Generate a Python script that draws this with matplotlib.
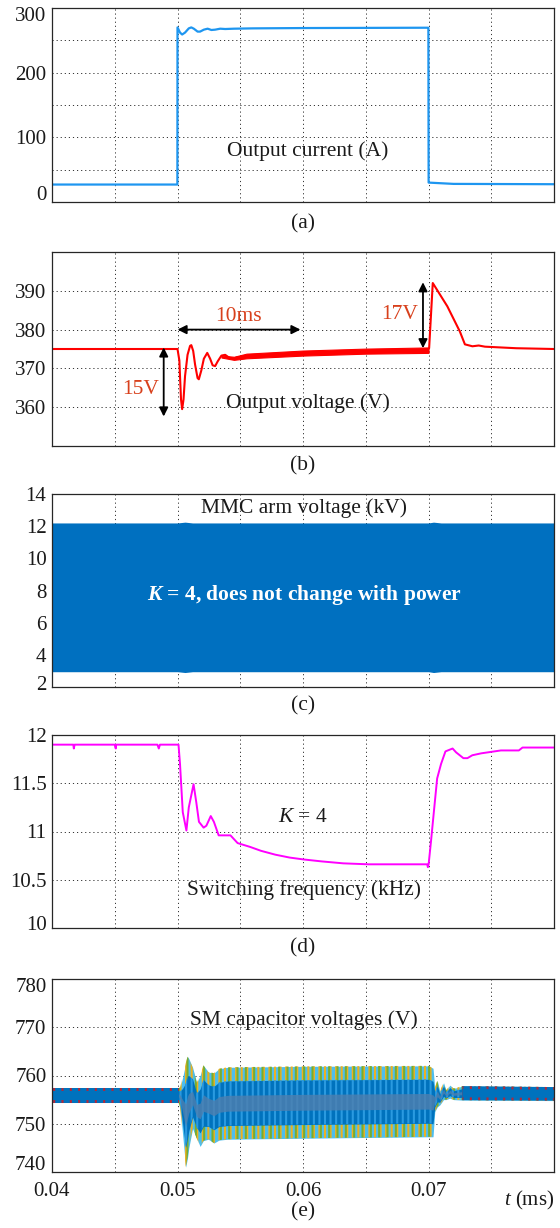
import matplotlib
matplotlib.use('Agg')
import matplotlib.pyplot as plt
from matplotlib.transforms import ScaledTranslation
import numpy as np

plt.rcParams['font.family'] = ['Liberation Serif', 'DejaVu Serif']
plt.rcParams['mathtext.fontset'] = 'custom'
plt.rcParams['mathtext.rm'] = 'Liberation Serif'
plt.rcParams['mathtext.it'] = 'Liberation Serif:italic'
plt.rcParams['mathtext.bf'] = 'Liberation Serif:bold'
plt.rcParams['mathtext.bfit'] = 'Liberation Serif:italic:bold'
plt.rcParams['hatch.linewidth'] = 1.5

# ---------------- data ----------------
x_grid = [0.04, 0.045, 0.05, 0.055, 0.06, 0.065, 0.07, 0.075, 0.08]
x_labels = ['0.04', '', '0.05', '', '0.06', '', '0.07', '', '']

# (a) output current (A)
cur_t = [0.04, 0.04999, 0.05, 0.0502, 0.05037, 0.0506, 0.0509, 0.0511, 0.0513,
         0.0516, 0.0518, 0.0521, 0.0524, 0.0527, 0.0530, 0.0534, 0.0538, 0.0545,
         0.0560, 0.0600, 0.0699, 0.06999, 0.07001, 0.0705, 0.0720, 0.0800]
cur_v = [27, 27, 270, 262, 259, 262, 268.5, 270, 268, 263.5, 263.5, 266.5, 268,
         266, 266.5, 268, 267.5, 268, 268.5, 269, 269.5, 269.5, 30, 29.5, 28, 27.5]

# (b) output voltage (V)
vol_t = [0.04, 0.0490, 0.0500, 0.05015, 0.0502, 0.05028, 0.05037, 0.05048, 0.0506,
         0.0508, 0.0510, 0.0511, 0.05125, 0.0514, 0.0516, 0.0517, 0.0519, 0.0521,
         0.05237, 0.0526, 0.0528, 0.0530, 0.0532, 0.0535, 0.0538, 0.0541, 0.0544,
         0.0547, 0.0555, 0.0600, 0.0650, 0.06995, 0.07005, 0.07034, 0.0715, 0.0725,
         0.0729, 0.0735, 0.0740, 0.0745, 0.0770, 0.0800]
vol_v = [375, 375, 375, 372, 368, 362, 359.5, 362, 368, 373.5, 375.8, 376, 374.5,
         371, 367.5, 367.2, 369.5, 372.5, 374, 372.5, 370.8, 370.6, 371.8, 373.3,
         373.5, 372.8, 372.4, 372.8, 373.2, 374.0, 374.5, 374.8, 375.2, 392, 386,
         379.5, 376.2, 375.7, 375.9, 375.6, 375.2, 375]
rip_t = [0.0535, 0.0545, 0.0555, 0.0600, 0.0650, 0.0700]
rip_lo = [372.8, 372.2, 372.6, 373.3, 373.8, 374.0]
rip_hi = [373.3, 373.0, 373.8, 374.6, 375.1, 375.4]

# (c) MMC arm voltage envelope (kV)
arm_t = [0.04, 0.0500, 0.0506, 0.0512, 0.0700, 0.0704, 0.0710, 0.0800]
arm_hi = [12.2, 12.2, 12.25, 12.2, 12.2, 12.25, 12.2, 12.2]
arm_lo = [2.95, 2.95, 2.9, 2.95, 2.95, 2.9, 2.95, 2.95]

# (d) switching frequency (kHz)
fs_t = [0.04, 0.0417, 0.04174, 0.0418, 0.0450, 0.04508, 0.0451, 0.0484, 0.04851,
        0.0486, 0.05008, 0.0502, 0.05042, 0.05071, 0.0509, 0.05128, 0.0515, 0.05171,
        0.05208, 0.0523, 0.05265, 0.0529, 0.05328, 0.05422, 0.05479, 0.05579,
        0.05665, 0.05779, 0.05893, 0.06007, 0.0615, 0.06321, 0.06521, 0.0699,
        0.06995, 0.07001, 0.0702, 0.0705, 0.07069, 0.0710, 0.07135, 0.07192,
        0.0722, 0.07278, 0.0731, 0.07349, 0.0742, 0.07577, 0.0772, 0.07749, 0.0800]
fs_v = [11.9, 11.9, 11.86, 11.9, 11.9, 11.86, 11.9, 11.9, 11.86, 11.9, 11.9, 11.7,
        11.2, 11.01, 11.25, 11.49, 11.3, 11.1, 11.04, 11.06, 11.16, 11.1, 10.96,
        10.96, 10.88, 10.84, 10.80, 10.76, 10.73, 10.71, 10.69, 10.67, 10.66,
        10.66, 10.63, 10.66, 10.9, 11.3, 11.55, 11.7, 11.83, 11.86, 11.82, 11.76,
        11.76, 11.79, 11.81, 11.84, 11.84, 11.87, 11.87]

# (e) SM capacitor voltage envelope (V)
sm_t = [0.04, 0.0501, 0.0502, 0.0504, 0.05065, 0.0508, 0.0509, 0.0512, 0.05153,
        0.0518, 0.05206, 0.05246, 0.0529, 0.0533, 0.0540, 0.0600, 0.0700, 0.07036,
        0.0705, 0.0707, 0.0709, 0.0712, 0.0714, 0.0717, 0.0720, 0.0727, 0.0800]
sm_hi = [757.4, 757.4, 757.5, 759.5, 762.5, 763.9, 763.5, 761.7, 758.5, 760.0,
         762.1, 760.7, 760.5, 761.4, 761.7, 761.9, 762.0, 761.5, 757.5, 758.9,
         756.8, 758.5, 756.9, 758.0, 757.3, 757.8, 757.6]
sm_lo = [754.4, 754.4, 753.5, 748.0, 741.0, 743.0, 745.0, 749.0, 747.0, 745.3,
         746.5, 746.8, 746.0, 746.6, 746.8, 747.0, 747.3, 747.3, 752.5, 753.5,
         753.9, 755.0, 755.0, 755.3, 755.0, 754.9, 754.8]

# ---------------- layout ----------------
W, H = 560, 1228
fig = plt.figure(figsize=(W / 100, H / 100), dpi=100)
L, R = 52, 554


def axpos(top, bot):
    return [L / W, 1 - bot / H, (R - L) / W, (bot - top) / H]


FS_TICK = 15
FS_TXT = 15.5
GRID = dict(color='#333333', lw=0.7, linestyle=(0, (1.2, 3.0)))
TXT = dict(fontsize=FS_TXT, color='#1a1a1a', ha='center', va='center')


def setup(ax, ylim, yticks, ylabels, shifts=None):
    ax.set_xlim(0.04, 0.08)
    ax.set_ylim(*ylim)
    ax.set_xticks(x_grid)
    ax.set_xticklabels([''] * len(x_grid))
    ax.set_yticks(yticks)
    ax.set_yticklabels(ylabels)
    ax.tick_params(length=0, labelsize=FS_TICK, pad=4, colors='#1a1a1a')
    ax.grid(True, **GRID)
    ax.set_axisbelow(True)
    for s in ax.spines.values():
        s.set_linewidth(0.9)
        s.set_color('#262626')
        s.set_zorder(10)
    if shifts:
        labs = ax.get_yticklabels()
        for idx, dy in shifts.items():
            labs[idx].set_transform(labs[idx].get_transform() +
                                    ScaledTranslation(0, dy / 100, fig.dpi_scale_trans))


def panel_label(text, ypx):
    fig.text(((L + R) / 2) / W, 1 - ypx / H, text, ha='center', va='center',
             fontsize=FS_TXT, color='#1a1a1a')


# (a)
ax = fig.add_axes(axpos(8, 202))
setup(ax, (0, 300), [0, 50, 100, 150, 200, 250, 300],
      ['0', '', '100', '', '200', '', '300'], {0: 9, 6: -6})
ax.plot(cur_t, cur_v, color='#1e96f0', lw=1.6, zorder=3)
ax.text(0.0604, 78, 'Output current (A)', **TXT)
panel_label('(a)', 224)

# (b)
ax = fig.add_axes(axpos(252, 446))
setup(ax, (350, 400), [350, 360, 370, 380, 390, 400],
      ['', '360', '370', '380', '390', ''])
ax.fill_between(rip_t, rip_lo, rip_hi, color='#ff0000', lw=0.8, zorder=3)
ax.plot(vol_t, vol_v, color='#ff0000', lw=1.5, zorder=3)
red_txt = '#d8401c'
arrow = dict(arrowstyle='<|-|>', color='black', lw=1.3, mutation_scale=13,
             shrinkA=0, shrinkB=0)
ax.annotate('', xy=(0.0489, 357.6), xytext=(0.0489, 375.4), arrowprops=arrow, zorder=5)
ax.annotate('', xy=(0.06956, 392.2), xytext=(0.06956, 375.2), arrowprops=arrow, zorder=5)
ax.annotate('', xy=(0.0500, 380), xytext=(0.0598, 380), arrowprops=arrow, zorder=5)
ax.text(0.04705, 364.6, '15V', fontsize=15.5, color=red_txt, ha='center', va='center')
ax.text(0.0677, 384.0, '17V', fontsize=15.5, color=red_txt, ha='center', va='center')
ax.text(0.05485, 383.4, '10ms', fontsize=15.5, color=red_txt, ha='center', va='center')
ax.text(0.0604, 361.0, 'Output voltage (V)', **TXT)
panel_label('(b)', 466)

# (c)
ax = fig.add_axes(axpos(494, 687))
setup(ax, (2, 14), [2, 4, 6, 8, 10, 12, 14],
      ['2', '4', '6', '8', '10', '12', '14'], {0: 4})
ax.fill_between(arm_t, arm_lo, arm_hi, color='#0070c0', lw=0, zorder=3)
ax.text(0.0601, 13.1, 'MMC arm voltage (kV)', **TXT)
ax.text(0.0601, 7.75, r'$\mathbfit{K}$ = 4, does not change with power', fontsize=15.5,
        fontweight='bold', color='white', ha='center', va='center', zorder=6)
panel_label('(c)', 706)

# (d)
ax = fig.add_axes(axpos(735, 928))
setup(ax, (10, 12), [10, 10.5, 11, 11.5, 12],
      ['10', '10.5', '11', '11.5', '12'], {0: 5})
ax.plot(fs_t, fs_v, color='#ff00ff', lw=1.4, zorder=3)
ax.text(0.0600, 11.15, r'$K$ = 4', **TXT)
ax.text(0.0601, 10.39, 'Switching frequency (kHz)', **TXT)
panel_label('(d)', 948)

# (e)
ax = fig.add_axes(axpos(979, 1172))
setup(ax, (740, 780), [740, 750, 760, 770, 780],
      ['740', '750', '760', '770', '780'], {0: 9, 4: -6})
sm_t_a = np.asarray(sm_t)
lo = np.asarray(sm_lo)
hi = np.asarray(sm_hi)
mid = (lo + hi) / 2
half = (hi - lo) / 2
steady = (sm_t_a <= 0.0501) | (sm_t_a >= 0.0727)
ax.fill_between(sm_t_a, lo, hi, color='#4dbeee', lw=0, zorder=2)
ax.fill_between(sm_t_a, lo, hi, facecolor='none', edgecolor='#edb120',
                hatch='|||', lw=0, zorder=3)
ax.fill_between(sm_t_a, lo, hi, facecolor='none', edgecolor='#77ac30',
                hatch='||', lw=0, zorder=3)
ax.fill_between(sm_t_a, mid - 0.62 * half, mid + 0.62 * half, color='#0072bd',
                lw=0, zorder=4)
ax.fill_between(sm_t_a, mid - 0.62 * half, mid + 0.62 * half, facecolor='none',
                edgecolor='#2a9ae0', hatch='|||', lw=0, zorder=4)
ax.fill_between(sm_t_a, mid - 0.22 * half, mid + 0.22 * half, color='#4f7fae',
                alpha=0.8, lw=0, zorder=4)
# steady-state parts: dark blue band with red/yellow specks at the edges
ax.fill_between(sm_t_a, lo, hi, where=steady, facecolor='#0072bd',
                edgecolor='#b0283c', hatch='||', lw=0, zorder=5)
ax.fill_between(sm_t_a, mid - 0.6 * half, mid + 0.6 * half, where=steady,
                color='#0072bd', lw=0, zorder=5)
ax.text(0.0601, 771.5, 'SM capacitor voltages (V)', **TXT)
ax.set_xticklabels(x_labels)
ax.tick_params(axis='x', labelsize=FS_TICK, pad=7)
ax.text(0.0800, 736.4, r'$t$ (ms)', fontsize=FS_TICK, color='#1a1a1a', ha='right', va='top')
panel_label('(e)', 1212)

fig.savefig('out.png', dpi=100)
